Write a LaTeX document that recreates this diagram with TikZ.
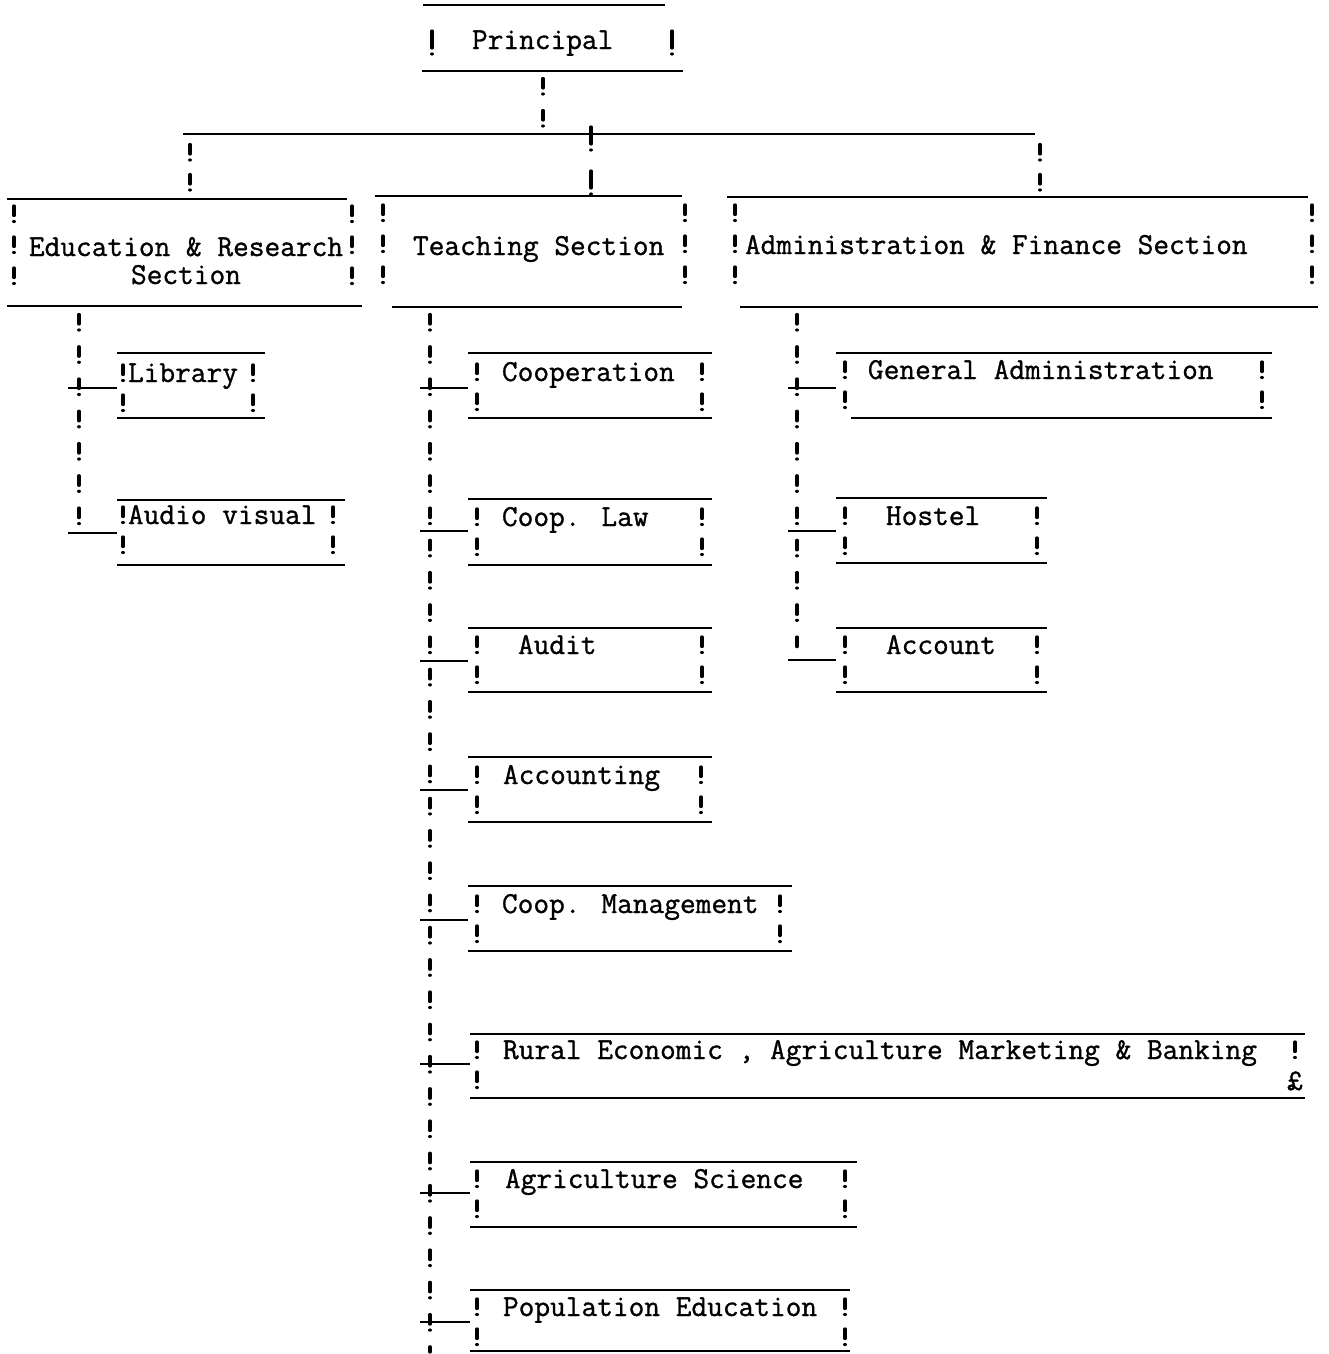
\documentclass[tikz,border=0pt]{standalone}
% A typed box: top rule, bottom rule and an invisible node spanning both
% #1 name, #2-#3 top rule x-range, #4 top y, #5-#6 bottom rule x-range, #7 bottom y
\newcommand\tbox[7]{%
  \node[frame, minimum width={max(#3,#6)-min(#2,#5)}, minimum height={#7-#4}]
    (#1) at ({(min(#2,#5)+max(#3,#6))/2},{(#4+#7)/2}) {};
  \draw[rule] (#2,#4) -- (#3,#4);
  \draw[rule] (#5,#7) -- (#6,#7);}
% Typed "!" columns on both sides of a box, from the first to the last baseline
\newcommand\sides[5][14.5pt]{%
  \draw[bang=#1] (#2,#4-17) -- (#2,#5+0.5);
  \draw[bang=#1] (#3,#4-17) -- (#3,#5+0.5);}
% Slightly heavier, inked typewriter strokes for the labels
\newcommand\inked{\special{pdf:literal direct 0.3 w 2 Tr}}
\newcommand\uninked{\special{pdf:literal direct 0 Tr}}
\begin{document}
\begin{tikzpicture}[x=1pt,y=-1pt,
  rule/.style={line width=2.6pt},
  bang/.style={line width=3.3pt, line cap=round,
    dash pattern=on 9.5pt off 6pt on 0.01pt off #1},
  bang/.default=14.5pt,
  tallbang/.style={line width=3.3pt, line cap=round,
    dash pattern=on 17pt off 6pt on 0.01pt off #1},
  frame/.style={inner sep=0pt, outer sep=0pt, draw=none},
  lbl/.style={inner sep=0pt, outer sep=0pt, anchor=base west,
    font=\ttfamily\fontsize{30.5}{28}\selectfont\inked,
    execute at end node=\uninked},
]
\useasboundingbox[fill=white] (0,0) rectangle (1329,1354);

% ---- boxes ----
\tbox{prin}{423}{665}{5}{422}{683}{71}
\tbox{edu}{7}{347}{199}{7}{362}{306}
\tbox{teach}{375}{682}{196}{392}{682}{307}
\tbox{admin}{727}{1308}{197}{740}{1318}{307}
\tbox{lib}{117}{265}{353}{117}{265}{418}
\tbox{av}{117}{345}{500}{117}{345}{565}
\tbox{coop}{468}{712}{353}{468}{712}{418}
\tbox{law}{468}{712}{499}{468}{712}{565}
\tbox{audit}{468}{712}{628}{468}{712}{692}
\tbox{acct}{468}{712}{757}{468}{712}{822}
\tbox{mgmt}{468}{792}{886}{468}{792}{951}
\tbox{rural}{470}{1305}{1034}{470}{1305}{1098}
\tbox{agri}{470}{857}{1162}{470}{857}{1227}
\tbox{pop}{470}{850}{1290}{470}{850}{1351}
\tbox{gen}{836}{1272}{353}{851}{1272}{418}
\tbox{hostel}{836}{1047}{498}{836}{1047}{563}
\tbox{account}{836}{1047}{628}{836}{1047}{692}

% ---- labels ----
\node[lbl] (prin-t) at (472,49) {Principal};
\node[lbl, anchor=base, align=center] (edu-t) at (186,284) {Education \& Research\\Section};
\node[lbl] (teach-t) at (413,255) {Teaching Section};
\node[lbl] (admin-t) at (745,254) {Administration \& Finance Section};
\node[lbl] (lib-t) at (128,382) {Library};
\node[lbl] (av-t) at (128,524) {Audio visual};
\node[lbl] (coop-t) at (502,381) {Cooperation};
\node[lbl] (law-t) at (502,526) {Coop. Law};
\node[lbl] (audit-t) at (518,654) {Audit};
\node[lbl] (acct-t) at (503,784) {Accounting};
\node[lbl] (mgmt-t) at (502,913) {Coop. Management};
\node[lbl] (rural-t) at (503,1059) {Rural Economic , Agriculture Marketing \& Banking};
\node[lbl] (agri-t) at (505,1188) {Agriculture Science};
\node[lbl] (pop-t) at (503,1316) {Population Education};
\node[lbl] (gen-t) at (868,379) {General Administration};
\node[lbl] (hostel-t) at (886,525) {Hostel};
\node[lbl] (account-t) at (886,654) {Account};
\node[lbl, anchor=base] (rural-m) at (1295,1090) {£};

% ---- typed box sides ----
\draw[tallbang=40pt] (432,31) -- (432,57);
\draw[tallbang=40pt] (672,31) -- (672,57);
\sides[15.5pt]{14}{352}{223}{285}
\sides[15.5pt]{383}{685}{222}{284}
\sides[15.5pt]{735}{1312}{222}{284}
\sides{123}{253}{382}{412}
\sides{123}{333}{524}{554}
\sides{477}{702}{381}{411}
\sides{477}{702}{526}{556}
\sides{477}{702}{654}{684}
\sides{477}{701}{784}{814}
\sides{477}{780}{913}{943}
\draw[bang] (477,1042) -- (477,1089.5);
\draw[bang] (1295,1042) -- (1295,1059.5);
\sides{477}{845}{1188}{1218}
\sides{477}{845}{1316}{1346}
\sides{845}{1262}{379}{409}
\sides{845}{1037}{525}{555}
\sides{845}{1037}{654}{684}

% ---- top level connectors ----
\coordinate (busL) at (183,134);
\coordinate (busR) at (1035,134);
\draw[rule] (busL) -- (busR);
\coordinate (pj) at (543,134);
\draw[bang=16.5pt, shorten <=7.5pt] (pj |- prin.south) -- (pj);
\coordinate (dE) at (190,134);
\coordinate (dT) at (591,134);
\coordinate (dA) at (1040,134);
\draw[bang=14.5pt, shorten <=10.5pt] (dE) -- (dE |- edu.north);
\draw[tallbang=21pt] ([yshift=7pt]dT) -- (dT |- teach.north);
\draw[bang=14.5pt, shorten <=10.5pt] (dA) -- (dA |- admin.north);

% ---- section trunks ----
\coordinate (eEnd) at (79,524);
\coordinate (tEnd) at (430,1352);
\coordinate (aEnd) at (797,652);
\draw[bang=16.75pt, shorten <=8.5pt] (eEnd |- edu.south) -- (eEnd);
\draw[bang=16.75pt, shorten <=7.5pt] (tEnd |- teach.south) -- (tEnd);
\draw[bang=16.75pt, shorten <=7.5pt] (aEnd |- admin.south) -- (aEnd);

% ---- branches to the unit boxes ----
\foreach \n/\x/\y in {lib/68/388, av/68/533, coop/420/388, law/420/531,
    audit/420/661, acct/420/790, mgmt/420/920, rural/420/1064,
    agri/420/1193, pop/420/1322, gen/788/388, hostel/788/531, account/788/660}{
  \coordinate (\n-j) at (\x,\y);
  \draw[rule] (\n-j) -- (\n-j -| \n.west);
}
\end{tikzpicture}
\end{document}
